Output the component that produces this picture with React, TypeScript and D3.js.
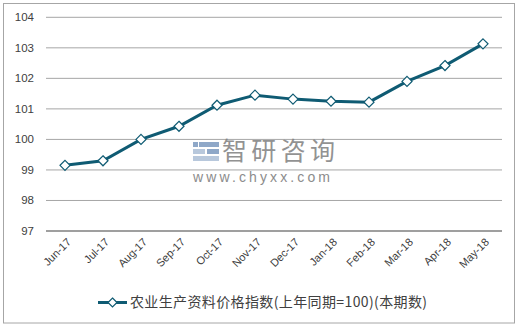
import React from "react";
import * as d3 from "d3";

const categories = ["Jun-17","Jul-17","Aug-17","Sep-17","Oct-17","Nov-17","Dec-17","Jan-18","Feb-18","Mar-18","Apr-18","May-18"];
const values = [99.15, 99.3, 100.0, 100.43, 101.12, 101.45, 101.32, 101.25, 101.22, 101.9, 102.42, 103.13];
const yTicks = [97, 98, 99, 100, 101, 102, 103, 104];
const seriesName = "农业生产资料价格指数(上年同期=100)(本期数)";

const W = 522, H = 328;
const left = 46, right = 502, top = 17.3, bottom = 231;
const color = "#0f5b73";

export default function App() {
  const x = d3.scaleBand<string>().domain(categories).range([left, right]);
  const y = d3.scaleLinear().domain([97, 104]).range([bottom, top]);
  const cx = (c: string) => (x(c) as number) + x.bandwidth() / 2;
  const line = d3.line<number>().x((_, i) => cx(categories[i])).y(v => y(v));
  const font = "'Liberation Sans', Arial, sans-serif";
  const diamond = (px: number, py: number, r: number) => `M${px},${py - r}L${px + r},${py}L${px},${py + r}L${px - r},${py}Z`;
  return (
    <svg width={W} height={H} style={{ position: "absolute", left: 0, top: 0, background: "#fff" }}>
      <rect x={3.5} y={3.5} width={511} height={319.5} fill="#fff" stroke="#a6a6a6" strokeWidth={1} />
      {yTicks.map(t => (
        <g key={t}>
          <line x1={left} x2={right} y1={y(t)} y2={y(t)} stroke={t === 97 ? "#7f7f7f" : "#a6a6a6"} strokeWidth={t === 97 ? 1.5 : 1} />
          <text x={34} y={y(t)} dy="0.35em" textAnchor="end" fontFamily={font} fontSize={11.5} fill="#404040">{t}</text>
        </g>
      ))}
      {categories.map(c => (
        <text key={c} transform={`translate(${cx(c) + 4},${bottom + 9}) rotate(-45)`} textAnchor="end" dy="0.35em" fontFamily={font} fontSize={11} fill="#404040">{c}</text>
      ))}
      <g>
        <rect x={193} y={142} width={5} height={5} fill="#8fa8c8" />
        <rect x={199} y={142} width={20} height={5} fill="#8fa8c8" />
        <rect x={193} y={149} width={12} height={5} fill="#b8c8dc" />
        <rect x={207} y={149} width={12} height={5} fill="#8fa8c8" />
        <rect x={193} y={156} width={26} height={5} fill="#b8c8dc" />
        <text x={222} y={160} fontFamily="'Noto Sans CJK SC', sans-serif" fontSize={25} textLength={113} fill="#7f7f7f" opacity={0.85}>智研咨询</text>
        <text x={193} y={182} fontFamily={font} fontSize={14} textLength={137} fill="#8c8c8c">www.chyxx.com</text>
      </g>
      <path d={line(values) || ""} fill="none" stroke={color} strokeWidth={3} />
      {values.map((v, i) => (
        <path key={i} d={diamond(cx(categories[i]), y(v), 5)} fill="#fff" stroke={color} strokeWidth={1.2} />
      ))}
      <line x1={98} x2={127} y1={302.5} y2={302.5} stroke={color} strokeWidth={3} />
      <path d={diamond(112.5, 302.5, 4.5)} fill="#fff" stroke={color} strokeWidth={1.2} />
      <text x={130} y={302.5} dy="0.35em" fontFamily="'Noto Sans CJK SC', sans-serif" fontSize={14} textLength={297} fill="#404040">{seriesName}</text>
    </svg>
  );
}
